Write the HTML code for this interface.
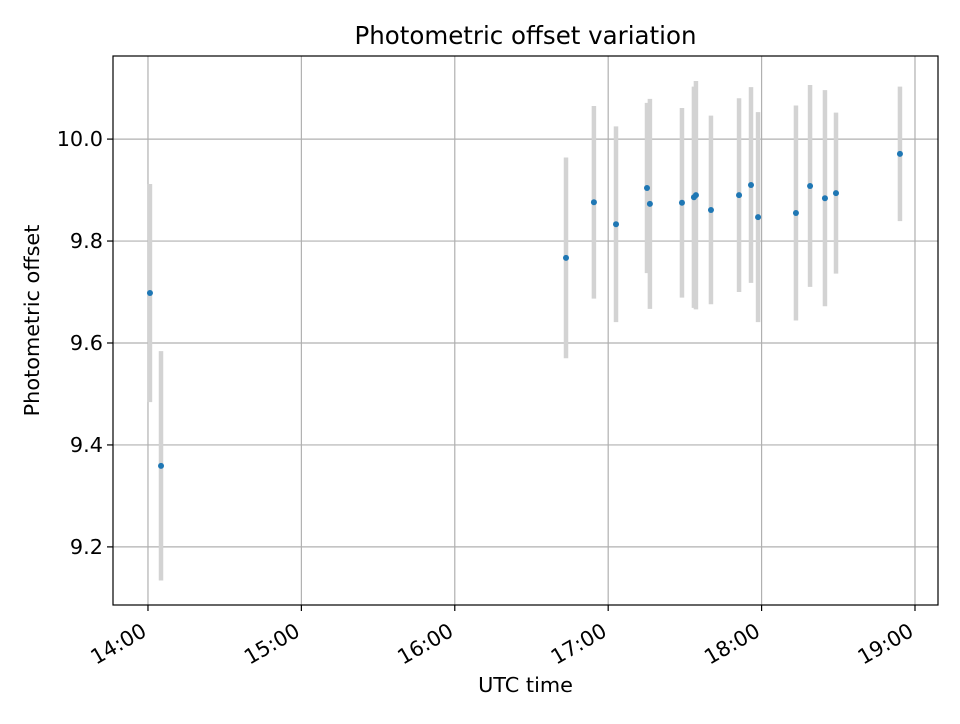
<!DOCTYPE html>
<html><head><meta charset="utf-8"><style>
body{margin:0;background:#fff;font-family:"DejaVu Sans","Liberation Sans",sans-serif}
svg text{font-family:"DejaVu Sans","Liberation Sans",sans-serif;fill:#000}
</style></head><body>
<svg id="chart" width="960" height="720" xmlns="http://www.w3.org/2000/svg"></svg>
<script>
const timesHours=[14.013,14.085,16.725,16.907,17.051,17.253,17.272,17.481,17.559,17.572,17.670,17.853,17.931,17.977,18.224,18.316,18.413,18.485,18.902];
const offsets=[9.698,9.359,9.767,9.876,9.833,9.904,9.873,9.875,9.886,9.890,9.861,9.890,9.910,9.847,9.855,9.908,9.884,9.894,9.971];
const errors=[0.214,0.225,0.197,0.189,0.192,0.167,0.206,0.186,0.217,0.224,0.185,0.190,0.192,0.206,0.211,0.198,0.212,0.158,0.132];
const xTicks=[14,15,16,17,18,19];
const xTickLabels=["14:00","15:00","16:00","17:00","18:00","19:00"];
const yTicks=[9.2,9.4,9.6,9.8,10.0];
const yTickLabels=["9.2","9.4","9.6","9.8","10.0"];

const L=113,R=938,T=56,B=605;
const xMin=13.772,xMax=19.150,yMin=9.086,yMax=10.163;
const sx=v=>L+(v-xMin)/(xMax-xMin)*(R-L);
const sy=v=>B-(v-yMin)/(yMax-yMin)*(B-T);
const svg=document.getElementById('chart');
const NS="http://www.w3.org/2000/svg";
function mk(tag,attrs,parent){const e=document.createElementNS(NS,tag);for(const k in attrs)e.setAttribute(k,attrs[k]);(parent||svg).appendChild(e);return e;}

const grid=mk('g',{});


xTicks.forEach((t,i)=>{
  const x=sx(t);
  const g=mk('line',{x1:x,x2:x,y1:T,y2:B,stroke:'#b0b0b0','stroke-width':1.2},grid);
  
  
  const tk=mk('line',{x1:x,x2:x,y1:B,y2:B+6,stroke:'#000','stroke-width':1.2});
  
  
  const ax=x, ay=B+30;
  const tx=mk('text',{x:ax,y:ay,'font-size':20.8,'text-anchor':'end',transform:`rotate(-30 ${ax} ${ay})`});
  tx.textContent=xTickLabels[i];
  
  
});
yTicks.forEach((t,i)=>{
  const y=sy(t);
  const g=mk('line',{x1:L,x2:R,y1:y,y2:y,stroke:'#b0b0b0','stroke-width':1.2},grid);
  
  
  const tk=mk('line',{x1:L-6,x2:L,y1:y,y2:y,stroke:'#000','stroke-width':1.2});
  
  
  const tx=mk('text',{x:L-10,y:y+7,'font-size':20.8,'text-anchor':'end'});
  tx.textContent=yTickLabels[i];
  
  
});

const eb=mk('g',{});


timesHours.forEach((t,i)=>{
  const l=mk('line',{x1:sx(t),x2:sx(t),y1:sy(offsets[i]+errors[i]),y2:sy(offsets[i]-errors[i]),stroke:'#d3d3d3','stroke-width':4.5},eb);
  
  
});
const pts=mk('g',{});


timesHours.forEach((t,i)=>{
  const c=mk('circle',{cx:sx(t),cy:sy(offsets[i]),r:3,fill:'#1f77b4'},pts);
  
  
});

const frame=mk('rect',{x:L,y:T,width:R-L,height:B-T,fill:'none',stroke:'#000','stroke-width':1.2});


const title=mk('text',{x:(L+R)/2,y:44,'font-size':24.5,'text-anchor':'middle'});
title.textContent='Photometric offset variation';


const xt=mk('text',{x:(L+R)/2,y:692,'font-size':20.8,'text-anchor':'middle'});
xt.textContent='UTC time';


const yx=39, yy=(T+B)/2-10;
const yt=mk('text',{x:yx,y:yy,'font-size':20.8,'text-anchor':'middle',transform:`rotate(-90 ${yx} ${yy})`});
yt.textContent='Photometric offset';


</script>
</body></html>
